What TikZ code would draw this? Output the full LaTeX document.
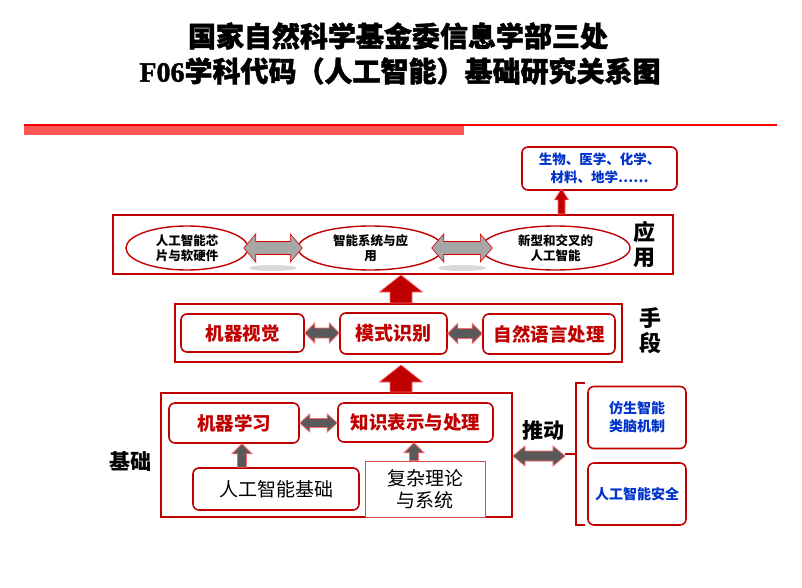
\documentclass[tikz,border=0pt]{standalone}
\usepackage{fontspec}
\setmainfont{Noto Sans CJK SC}
\newfontfamily\heavy{Noto Sans CJK SC}[BoldFeatures={FakeBold=1.5}]
\newfontfamily\tnr{Liberation Serif}[BoldFeatures={FakeBold=1.5}]
\usetikzlibrary{calc,shapes.geometric}
\definecolor{dred}{RGB}{192,0,0}
\definecolor{barred}{RGB}{255,85,85}
\definecolor{lred}{RGB}{255,0,0}
\definecolor{tblue}{RGB}{0,51,204}
\definecolor{agrey}{RGB}{166,166,166}
\definecolor{dgrey}{RGB}{89,89,89}
\tikzset{
  rbox/.style={draw=dred, line width=1.6pt, rounded corners=6pt, inner sep=0pt, fill=white},
  frame/.style={draw=dred, line width=2pt, inner sep=0pt},
  ell/.style={ellipse, draw=dred, line width=1.4pt, inner sep=0pt, fill=white, font=\fontsize{12.5}{15}\selectfont\bfseries, align=center},
  redtxt/.style={text=dred, font=\fontsize{18.5}{22}\selectfont\bfseries},
  blktxt/.style={text=black, font=\fontsize{19}{22}\selectfont, align=center},
  bluetxt/.style={text=tblue, font=\fontsize{14}{18}\selectfont\bfseries, align=center},
  lbl/.style={font=\fontsize{21}{25}\selectfont\bfseries, align=center},
  redarrow/.style={fill=dred, draw=red!60!white, line width=0.6pt},
  greyA/.style={fill=agrey, draw=red!85!black, line width=0.6pt},
  greyB/.style={fill=dgrey, draw=red!60!white, line width=0.8pt},
}
% vertical fat arrow, pointing up: #1 start (bottom), #2 tip (top), #3 shaft half, #4 head half, #5 head length, #6 style
\newcommand{\fatup}[6]{%
  \path[#6] let \p1=#1, \p2=#2 in
  (\x1-#3,\y1) -- (\x1-#3,\y2-#5) -- (\x1-#4,\y2-#5) -- (\x1,\y2) -- (\x1+#4,\y2-#5)
  -- (\x1+#3,\y2-#5) -- (\x1+#3,\y1) -- cycle;}
% horizontal double fat arrow: #1 left tip, #2 right tip
\newcommand{\fatboth}[6]{%
  \path[#6] let \p1=#1, \p2=#2 in
  (\x1,\y1) -- (\x1+#5,\y1+#4) -- (\x1+#5,\y1+#3) -- (\x2-#5,\y1+#3) -- (\x2-#5,\y1+#4)
  -- (\x2,\y1) -- (\x2-#5,\y1-#4) -- (\x2-#5,\y1-#3) -- (\x1+#5,\y1-#3) -- (\x1+#5,\y1-#4) -- cycle;}
\begin{document}
\begin{tikzpicture}[x=1pt,y=-1pt]
\useasboundingbox[fill=white] (0,0) rectangle (802,588);

% title
\node[font=\heavy\fontsize{28}{32}\selectfont\bfseries] (t1) at (398,36) {国家自然科学基金委信息学部三处};
\node[font=\heavy\fontsize{28}{32}\selectfont\bfseries] (t2) at (400,71) {{\tnr F06}学科代码（人工智能）基础研究关系图};
\fill[barred] (23.5,125) rectangle (464,135.5);
\draw[lred, line width=1.5pt] (23.5,125) -- (777,125);

% application row
\node[rbox, minimum width=155pt, minimum height=43pt, bluetxt, font=\fontsize{13.5}{18}\selectfont\bfseries] (bio) at (599.5,168.5) {生物、医学、化学、\\材料、地学……};
\node[frame, minimum width=560pt, minimum height=59pt] (app) at (393,244.5) {};
\fill[black!15] (273,268) ellipse (24pt and 3pt);
\fill[black!15] (462,268) ellipse (24pt and 3pt);
\node[ell, minimum width=122pt, minimum height=44pt] (e1) at (187,248) {人工智能芯\\片与软硬件};
\node[ell, minimum width=145pt, minimum height=44pt] (e2) at (370.5,248) {智能系统与应\\用};
\node[ell, minimum width=149pt, minimum height=44pt] (e3) at (555.5,248) {新型和交叉的\\人工智能};
\fatboth{([xshift=-5pt]e1.east)}{([xshift=5pt]e2.west)}{6.5pt}{14pt}{12pt}{greyA}
\fatboth{([xshift=-12pt]e2.east)}{([xshift=12pt]e3.west)}{6.5pt}{14pt}{12pt}{greyA}
\node[lbl, font=\fontsize{22}{25}\selectfont\bfseries] (yy) at (644,245) {应\\用};
\coordinate (ab) at ([xshift=-38pt,yshift=2pt]bio.south);
\fatup{(ab |- app.north)}{(ab)}{3.5pt}{7pt}{11pt}{redarrow}

% means row
\node[frame, minimum width=447pt, minimum height=58pt] (mid) at (398.5,333) {};
\node[rbox, minimum width=123pt, minimum height=38pt, redtxt] (mv) at (242.5,333) {机器视觉};
\node[rbox, minimum width=107pt, minimum height=41pt, redtxt, font=\fontsize{19}{22}\selectfont\bfseries] (pr) at (393.5,333.5) {模式识别};
\node[rbox, minimum width=132pt, minimum height=40pt, redtxt] (nlp) at (549,334) {自然语言处理};
\fatboth{(mv.east)}{(pr.west)}{5pt}{10pt}{10pt}{greyB}
\fatboth{(pr.east)}{(nlp.west)}{5pt}{10pt}{10pt}{greyB}
\node[lbl, font=\fontsize{22}{25}\selectfont\bfseries] (sd) at (650,331) {手\\段};
\coordinate (ma) at ([xshift=2.5pt]mid.north);
\fatup{(ma)}{(ma |- app.south)}{11pt}{21.5pt}{17pt}{redarrow}

% base row
\node[frame, minimum width=351pt, minimum height=124pt] (base) at (336.5,455) {};
\coordinate (ba) at ([xshift=2.5pt,yshift=-2pt]mid.south);
\fatup{(ba |- base.north)}{(ba)}{11pt}{21.5pt}{17pt}{redarrow}
\node[rbox, minimum width=130pt, minimum height=40pt, redtxt] (ml) at (234,423) {机器学习\hspace{29pt}};
\node[rbox, minimum width=155pt, minimum height=39pt, redtxt] (kr) at (415.5,422.5) {知识表示与处理};
\node[rbox, minimum width=166pt, minimum height=42pt, blktxt] (aif) at (276,489) {人工智能基础};
\node[draw=dred!70, line width=0.6pt, fill=white, minimum width=120pt, minimum height=56pt, inner sep=0pt, blktxt] (cx) at (425,489) {复杂理论\\与系统};
\fatboth{(ml.east)}{(kr.west)}{4.5pt}{9pt}{10pt}{greyB}
\coordinate (a1) at (242,0);
\fatup{(a1 |- aif.north)}{(a1 |- ml.south)}{4.5pt}{10pt}{10pt}{greyB}
\coordinate (a2) at (414,0);
\fatup{(a2 |- cx.north)}{(a2 |- kr.south)}{4.5pt}{10pt}{10pt}{greyB}
\node[lbl] (jc) at (130,462) {基础};
\node[lbl] (td) at (543,431) {推动};

% drivers
\coordinate (brk) at (576,454);
\draw[dred, line width=2.5pt] ([xshift=9pt]brk |- 0,383) -- (brk |- 0,383) -- (brk |- 0,525) -- ([xshift=9pt]brk |- 0,525);
\draw[dred, line width=2.5pt] ([xshift=-11pt]brk) -- (brk);
\fatboth{([yshift=-1pt]base.east)}{([xshift=-11pt]brk)}{5pt}{10pt}{12pt}{greyB}
\node[rbox, minimum width=98pt, minimum height=62pt, bluetxt] (b1) at (637,417.5) {仿生智能\\类脑机制};
\node[rbox, minimum width=98pt, minimum height=62pt, bluetxt] (b2) at (637,494) {人工智能安全};
\end{tikzpicture}
\end{document}
